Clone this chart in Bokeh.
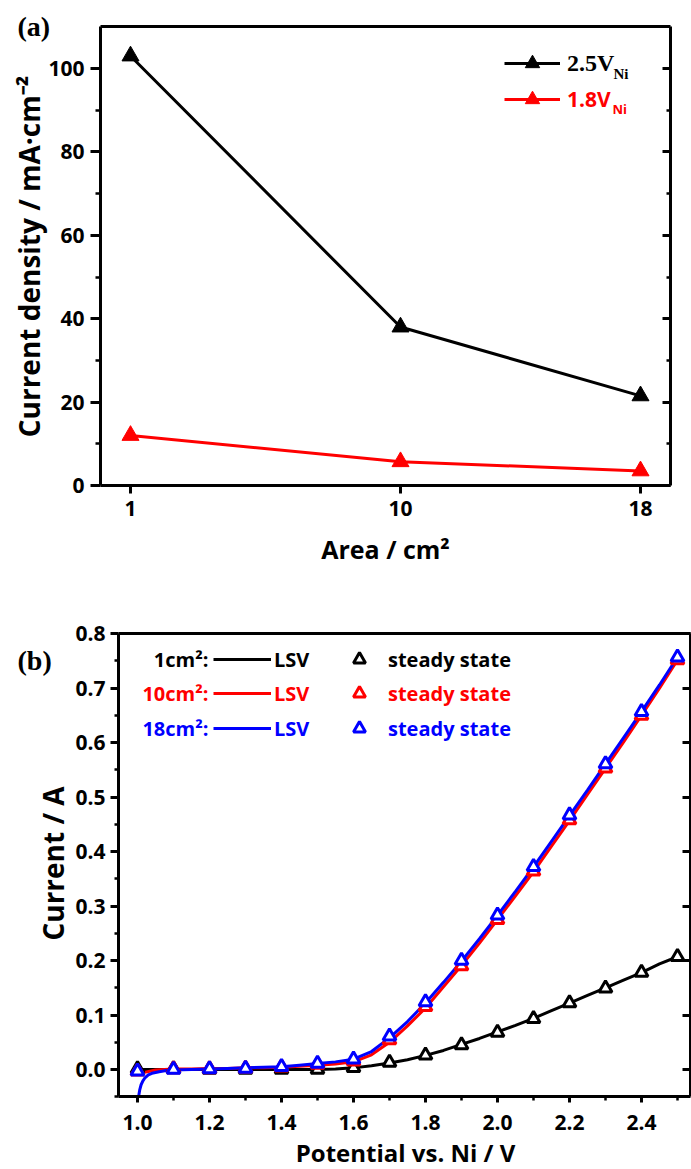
import math
from bokeh.plotting import figure
from bokeh.layouts import column, row
from bokeh.models import (FixedTicker, LinearAxis, Range1d, Label, Legend,
                          LegendItem, NumeralTickFormatter)
from bokeh.core.properties import value
from bokeh.embed import file_html
from bokeh.resources import INLINE

# ---------------- data: panel (a) ----------------
area = [1, 10, 18]
area_ticks = [1, 10, 18]
j_25 = [103.0, 38.0, 21.5]      # 2.5 V_Ni
j_18 = [12.0, 5.7, 3.5]         # 1.8 V_Ni
ya_ticks = [0, 20, 40, 60, 80, 100]
ya_minor = [10, 30, 50, 70, 90]
xa_box = (0, 19)                # plotted box of panel (a)
ya_box = (0, 110)

# ---------------- data: panel (b) ----------------
ss_v = [1.0, 1.1, 1.2, 1.3, 1.4, 1.5, 1.6, 1.7, 1.8, 1.9, 2.0, 2.1, 2.2, 2.3, 2.4, 2.5]
ss_1 = [0.001, 0.001, 0.0, 0.0, 0.0, 0.0, 0.003, 0.013, 0.026, 0.045, 0.068, 0.093, 0.122, 0.149, 0.178, 0.207]
ss_10 = [-0.003, 0.001, 0.001, 0.002, 0.004, 0.009, 0.015, 0.054, 0.115, 0.190, 0.275, 0.364, 0.458, 0.553, 0.650, 0.752]
ss_18 = [-0.003, 0.0, 0.001, 0.002, 0.005, 0.011, 0.019, 0.061, 0.124, 0.200, 0.283, 0.372, 0.467, 0.561, 0.657, 0.757]

lsv_v = [1.0, 1.05, 1.1, 1.15, 1.2, 1.25, 1.3, 1.35, 1.4, 1.45, 1.5, 1.55, 1.6, 1.65, 1.7,
         1.75, 1.8, 1.85, 1.9, 1.95, 2.0, 2.05, 2.1, 2.15, 2.2, 2.25, 2.3, 2.35, 2.4, 2.45, 2.5]
lsv_1 = [0.0, 0.0, 0.0, 0.0, 0.0, 0.0, 0.0, 0.0, 0.0, 0.0, 0.0, 0.001, 0.003, 0.007, 0.012,
         0.018, 0.026, 0.035, 0.046, 0.057, 0.069, 0.081, 0.094, 0.108, 0.122, 0.136, 0.150, 0.164, 0.178, 0.194, 0.207]
lsv_10 = [-0.008, -0.001, 0.001, 0.001, 0.002, 0.002, 0.003, 0.003, 0.004, 0.006, 0.008, 0.010, 0.014, 0.027, 0.050,
          0.080, 0.113, 0.152, 0.191, 0.232, 0.275, 0.319, 0.363, 0.410, 0.457, 0.505, 0.553, 0.601, 0.650, 0.700, 0.752]
lsv18_v = [1.003, 1.006, 1.01, 1.015, 1.02, 1.03, 1.04, 1.06, 1.08, 1.1, 1.15, 1.2, 1.25, 1.3, 1.35, 1.4,
           1.45, 1.5, 1.55, 1.6, 1.65, 1.7, 1.75, 1.8, 1.85, 1.9, 1.95, 2.0, 2.05, 2.1, 2.15, 2.2, 2.25,
           2.3, 2.35, 2.4, 2.45, 2.5]
lsv_18 = [-0.05, -0.038, -0.028, -0.021, -0.016, -0.010, -0.007, -0.004, -0.002, -0.001, 0.0, 0.001, 0.002,
          0.003, 0.004, 0.005, 0.008, 0.011, 0.014, 0.019, 0.033, 0.058, 0.088, 0.122, 0.160, 0.199, 0.240,
          0.283, 0.327, 0.372, 0.419, 0.466, 0.513, 0.561, 0.609, 0.657, 0.706, 0.757]
xb_ticks = [1.0, 1.2, 1.4, 1.6, 1.8, 2.0, 2.2, 2.4]
xb_minor = [1.1, 1.3, 1.5, 1.7, 1.9, 2.1, 2.3, 2.5]
yb_ticks = [0.0, 0.1, 0.2, 0.3, 0.4, 0.5, 0.6, 0.7, 0.8]
yb_minor = [-0.05, 0.05, 0.15, 0.25, 0.35, 0.45, 0.55, 0.65, 0.75]
xb_box = (0.947, 2.536)
yb_box = (-0.05, 0.8)

SANS = "Open Sans"
SERIF = "Liberation Serif"
RED = "#ff0000"
BLUE = "#0000ff"
TICK_FS = "21px"


def box_axis(ticks, minor, loc, bounds, tick_out=0, tick_in=0, minor_out=0, minor_in=0,
             labels=True, standoff=6, fmt=None):
    ax = LinearAxis(ticker=FixedTicker(ticks=ticks, minor_ticks=minor),
                    fixed_location=loc, bounds=bounds)
    ax.axis_line_width = 3
    ax.axis_line_color = "black"
    ax.major_tick_line_width = 3
    ax.minor_tick_line_width = 2.5
    ax.major_tick_out = tick_out
    ax.major_tick_in = tick_in
    ax.minor_tick_out = minor_out
    ax.minor_tick_in = minor_in
    ax.major_label_standoff = standoff
    ax.major_label_text_font = SANS
    ax.major_label_text_font_style = "bold"
    ax.major_label_text_font_size = TICK_FS
    if labels:
        ax.major_label_text_color = "black"
    else:
        ax.major_label_text_color = None
        ax.major_label_text_font_size = "1px"
    if fmt is not None:
        ax.formatter = fmt
    return ax


def lab(text, x, y, font, size, color="black", align="left", angle=0.0):
    return Label(x=x, y=y, x_units="screen", y_units="screen", text=text, angle=angle,
                 text_font=font, text_font_style="bold", text_font_size=size,
                 text_baseline="middle", text_align=align, text_color=color)


def leg(renderers, text, loc, font, size, color, gw, gh, standoff):
    return Legend(items=[LegendItem(label=value(text), renderers=renderers)],
                  location=loc, glyph_width=gw, glyph_height=gh, spacing=0, padding=0,
                  margin=0, label_width=0, label_height=0, label_standoff=standoff,
                  label_text_font=font, label_text_font_style="bold", label_text_font_size=size,
                  label_text_color=color, border_line_color=None, background_fill_alpha=0)


def bare_figure(h, xr, yr):
    p = figure(width=691, height=h, output_backend="svg", toolbar_location=None,
               x_range=Range1d(*xr), y_range=Range1d(*yr), x_axis_location=None, y_axis_location=None,
               min_border_left=0, min_border_right=0, min_border_top=0, min_border_bottom=0)
    p.xgrid.visible = False
    p.ygrid.visible = False
    p.outline_line_color = None
    return p


# ================= panel (a) =================
# canvas 691 x 585; x: 30 px / cm2 with 1 at px 130; y: 4.17 px / unit with 0 at px 485
pa = bare_figure(585, (1 - 130 / 30.0, 1 - 130 / 30.0 + 691 / 30.0), (-100 / 4.17, 485 / 4.17))

pa.add_layout(box_axis(ya_ticks, ya_minor, xa_box[0], ya_box, tick_out=10, minor_out=5, standoff=6), "left")
pa.add_layout(box_axis(area_ticks, [], ya_box[0], xa_box, tick_out=8, standoff=7), "below")
pa.add_layout(box_axis(ya_ticks, ya_minor, xa_box[1], ya_box, tick_in=8, minor_in=4, labels=False), "right")
pa.add_layout(box_axis([], [], ya_box[1], xa_box, labels=False), "above")

la1 = pa.line(area, j_25, line_color="black", line_width=3)
sa1 = pa.scatter(area, j_25, marker="triangle", size=17, fill_color="black", line_color="black")
la2 = pa.line(area, j_18, line_color=RED, line_width=3)
sa2 = pa.scatter(area, j_18, marker="triangle", size=17, fill_color=RED, line_color=RED)

pa.add_layout(leg([la1, sa1], "2.5V", (504, 504), SERIF, "24px", "black", 56, 36, 7))
pa.add_layout(leg([la2, sa2], "1.8V", (504, 468), SANS, "21px", RED, 56, 36, 7))
pa.add_layout(lab("Ni", 613, 512, SERIF, "15px"))
pa.add_layout(lab("Ni", 612, 477, SANS, "13px", RED))
pa.add_layout(lab("(a)", 17, 559, SERIF, "28px"))
pa.add_layout(lab("Area / cm²", 385, 37, SANS, "25px", align="center"))
pa.add_layout(lab("Current density / mA·cm⁻²", 28, 329, SANS, "28px", align="center", angle=math.pi / 2))

# ================= panel (b) =================
# canvas 691 x 584; x: 360 px / V with 1.0 at px 137; y: 544.7 px / A with 0 at px 484
pb = bare_figure(584, (1 - 137 / 360.0, 1 - 137 / 360.0 + 691 / 360.0), (-100 / 544.7, 484 / 544.7))

pb.add_layout(box_axis(yb_ticks, yb_minor, xb_box[0], yb_box, tick_out=8, minor_out=4, standoff=5,
                       fmt=NumeralTickFormatter(format="0.0")), "left")
pb.add_layout(box_axis(xb_ticks, xb_minor, yb_box[0], xb_box, tick_out=6, minor_out=4, standoff=12,
                       fmt=NumeralTickFormatter(format="0.0")), "below")
pb.add_layout(box_axis(yb_ticks, [], xb_box[1], yb_box, tick_in=8, labels=False), "right")
pb.add_layout(box_axis([], [], yb_box[1], xb_box, labels=False), "above")

lb1 = pb.line(lsv_v, lsv_1, line_color="black", line_width=3)
lb2 = pb.line(lsv_v, lsv_10, line_color=RED, line_width=3)
lb3 = pb.line(lsv18_v, lsv_18, line_color=BLUE, line_width=3)
sb1 = pb.scatter(ss_v, ss_1, marker="triangle", size=13, fill_color="white", line_color="black", line_width=3)
sb2 = pb.scatter(ss_v, ss_10, marker="triangle", size=13, fill_color="white", line_color=RED, line_width=3)
sb3 = pb.scatter(ss_v, ss_18, marker="triangle", size=13, fill_color="white", line_color=BLUE, line_width=3)

rows_vy = [493, 459, 424]
rows_y = [510, 476, 441]
row_labels = ["1cm²:", "10cm²:", "18cm²:"]
row_colors = ["black", RED, BLUE]
for vy, yy, text, col, lr, sr in zip(rows_vy, rows_y, row_labels, row_colors, (lb1, lb2, lb3), (sb1, sb2, sb3)):
    pb.add_layout(leg([lr], "LSV", (213, vy), SANS, "20px", col, 58, 34, 3))
    pb.add_layout(leg([sr], "steady state", (344, vy), SANS, "20px", col, 30, 34, 14))
    pb.add_layout(lab(text, 208, yy, SANS, "20px", col, "right"))

pb.add_layout(lab("(b)", 17, 509, SERIF, "28px"))
pb.add_layout(lab("Potential vs. Ni / V", 405, 17, SANS, "24px", align="center"))
pb.add_layout(lab("Current / A", 52, 306, SANS, "28px", align="center", angle=math.pi / 2))

layout = column(row(pa), row(pb), spacing=0)
open("out.html", "w").write(file_html(layout, INLINE))
